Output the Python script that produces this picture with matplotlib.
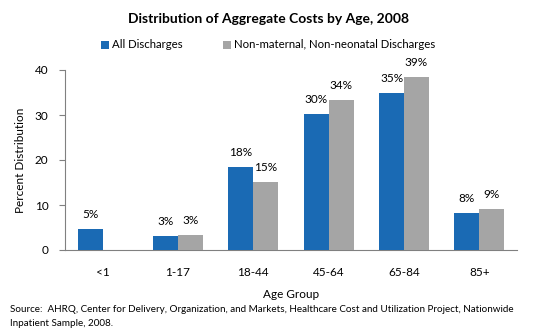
import matplotlib
matplotlib.use("Agg")
import matplotlib.pyplot as plt
import numpy as np

categories = ["<1", "1-17", "18-44", "45-64", "65-84", "85+"]
all_discharges = [4.6, 3.1, 18.4, 30.2, 34.9, 8.2]
non_maternal = [np.nan, 3.4, 15.1, 33.4, 38.5, 9.1]
all_labels = ["5%", "3%", "18%", "30%", "35%", "8%"]
nm_labels = ["", "3%", "15%", "34%", "39%", "9%"]
yticks = [0, 10, 20, 30, 40]

plt.rcParams['font.family'] = ['Lato', 'DejaVu Sans']

fig = plt.figure(figsize=(5.36, 3.33), dpi=100)
ax = fig.add_axes([65/536, 1-250/333, (517-65)/536, 180/333])

x = np.arange(len(categories))
w = 0.33
blue = "#1a6ab4"
gray = "#a5a5a5"
b1 = ax.bar(x - w/2, all_discharges, w, color=blue, label="All Discharges", zorder=3)
b2 = ax.bar(x + w/2, non_maternal, w, color=gray, label="Non-maternal, Non-neonatal Discharges", zorder=3)

for xi, v, t in zip(x, all_discharges, all_labels):
    if t:
        ax.text(xi - w/2, v + 2.0, t, ha="center", va="bottom", fontsize=8.5)
for xi, v, t in zip(x, non_maternal, nm_labels):
    if t:
        ax.text(xi + w/2, v + 2.0, t, ha="center", va="bottom", fontsize=8.5)

ax.set_xlim(-0.5, len(categories) - 0.5)
ax.set_ylim(0, 40)
ax.set_yticks(yticks)
ax.set_xticks(x)
ax.set_xticklabels(categories, fontsize=8.5)
ax.tick_params(axis="x", length=0, pad=12)
ax.tick_params(axis="y", length=4, color="#808080", labelsize=8.5, pad=8)
for s in ["top", "right"]:
    ax.spines[s].set_visible(False)
for s in ["left", "bottom"]:
    ax.spines[s].set_color("#808080")
ax.set_ylabel("Percent Distribution", fontsize=8.5, labelpad=6)
ax.set_xlabel("Age Group", fontsize=8.5, labelpad=8)

fig.text(0.5, 1-19/333, "Distribution of Aggregate Costs by Age, 2008", ha="center", va="center",
         fontsize=10, fontweight="bold")
fig.legend(handles=[b1, b2], loc="center", bbox_to_anchor=(0.5, 1-45/333), ncol=2, frameon=False,
           fontsize=8.2, handlelength=0.7, handleheight=0.7, handletextpad=0.3, columnspacing=3.5)

fig.text(10/536, 1-310/333, "Source:  AHRQ, Center for Delivery, Organization, and Markets, Healthcare Cost and Utilization Project, Nationwide",
         ha="left", va="center", fontsize=7.1)
fig.text(10/536, 1-323/333, "Inpatient Sample, 2008.", ha="left", va="center", fontsize=7.1)

fig.savefig("out.png", dpi=100)
